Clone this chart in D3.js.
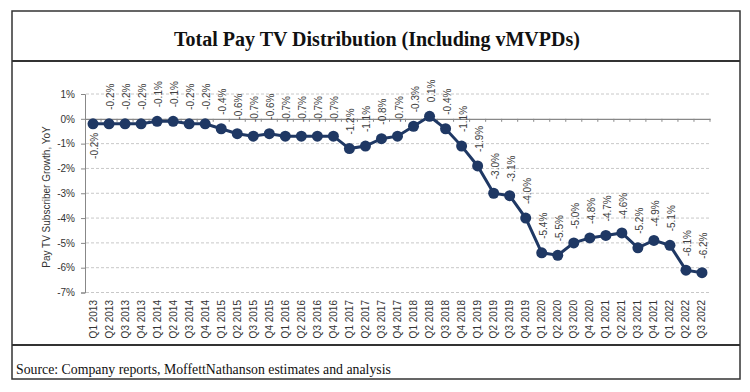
<!DOCTYPE html>
<html><head><meta charset="utf-8">
<script src="https://cdn.jsdelivr.net/npm/d3@7"></script>
<style>body{margin:0;background:#fff}svg{display:block}</style>
</head><body>
<svg id="c" width="750" height="392"></svg>
<script>
const quarters = ["Q1 2013","Q2 2013","Q3 2013","Q4 2013","Q1 2014","Q2 2014","Q3 2014","Q4 2014",
"Q1 2015","Q2 2015","Q3 2015","Q4 2015","Q1 2016","Q2 2016","Q3 2016","Q4 2016",
"Q1 2017","Q2 2017","Q3 2017","Q4 2017","Q1 2018","Q2 2018","Q3 2018","Q4 2018",
"Q1 2019","Q2 2019","Q3 2019","Q4 2019","Q1 2020","Q2 2020","Q3 2020","Q4 2020",
"Q1 2021","Q2 2021","Q3 2021","Q4 2021","Q1 2022","Q2 2022","Q3 2022"];
const growth = [-0.2,-0.2,-0.2,-0.2,-0.1,-0.1,-0.2,-0.2,
-0.4,-0.6,-0.7,-0.6,-0.7,-0.7,-0.7,-0.7,
-1.2,-1.1,-0.8,-0.7,-0.3,0.1,-0.4,-1.1,
-1.9,-3.0,-3.1,-4.0,-5.4,-5.5,-5.0,-4.8,
-4.7,-4.6,-5.2,-4.9,-5.1,-6.1,-6.2];
const yTicks = [1,0,-1,-2,-3,-4,-5,-6,-7];
const title = "Total Pay TV Distribution (Including vMVPDs)";
const source = "Source: Company reports, MoffettNathanson estimates and analysis";
const yTitle = "Pay TV Subscriber Growth, YoY";

const svg = d3.select("#c");
const sans = "'Liberation Sans', Arial, sans-serif";
const serif = "'Liberation Serif', 'Times New Roman', serif";

// frame
const fx0 = 12, fx1 = 740, fy0 = 11, fy1 = 379;
svg.append("rect").attr("x", fx0).attr("y", fy0).attr("width", fx1 - fx0).attr("height", fy1 - fy0)
  .attr("fill", "none").attr("stroke", "#333").attr("stroke-width", 1.5);
svg.append("line").attr("x1", fx0).attr("x2", fx1).attr("y1", 61).attr("y2", 61)
  .attr("stroke", "#333").attr("stroke-width", 2);
svg.append("line").attr("x1", fx0).attr("x2", fx1).attr("y1", 345).attr("y2", 345)
  .attr("stroke", "#333").attr("stroke-width", 2);

svg.append("text").attr("x", 377).attr("y", 41).attr("text-anchor", "middle")
  .attr("dominant-baseline", "middle")
  .style("font-family", serif).style("font-weight", "bold").style("font-size", "20px")
  .attr("fill", "#111").text(title);
svg.append("text").attr("x", 16).attr("y", 374)
  .style("font-family", serif).style("font-size", "13.8px").attr("fill", "#111").text(source);

// scales
const x = d3.scaleBand().domain(quarters).range([85, 710]);
const y = d3.scaleLinear().domain([-7, 1]).range([292.5, 94]);
const cx = d => x(d) + x.bandwidth() / 2;

// gridlines
svg.append("g").selectAll("line").data(yTicks.filter(t => t !== 0)).join("line")
  .attr("x1", 86).attr("x2", 710).attr("y1", d => y(d)).attr("y2", d => y(d))
  .attr("stroke", "#c8c8c8").attr("stroke-width", 1).attr("stroke-dasharray", "3,2");

// y axis
const yAxis = svg.append("g").attr("transform", "translate(85,0)")
  .call(d3.axisLeft(y).tickValues(yTicks).tickFormat(d => d + "%").tickSize(4).tickPadding(6));
yAxis.select(".domain").attr("stroke", "#888");
yAxis.selectAll(".tick line").attr("stroke", "#888");
yAxis.selectAll("text").style("font-family", sans).style("font-size", "10px").attr("fill", "#333");

// x axis at 0
const xAxis = svg.append("g").attr("transform", `translate(0,${y(0)})`)
  .call(d3.axisBottom(x).tickSize(0).tickFormat(""));
xAxis.select(".domain").attr("stroke", "#888").attr("stroke-width", 1.2);
svg.append("g").selectAll("line").data(quarters.slice(1).concat(["__end"])).join("line")
  .attr("x1", d => d === "__end" ? 710 : x(d)).attr("x2", d => d === "__end" ? 710 : x(d))
  .attr("y1", y(0)).attr("y2", y(0) + 3).attr("stroke", "#888");

// x labels
svg.append("g").selectAll("text").data(quarters).join("text")
  .attr("transform", d => `translate(${cx(d)},300) rotate(-90)`)
  .attr("text-anchor", "end").attr("dominant-baseline", "central")
  .style("font-family", sans).style("font-size", "10px").attr("fill", "#333")
  .text(d => d);

// y title
svg.append("text").attr("transform", "translate(46,197) rotate(-90)")
  .attr("text-anchor", "middle").attr("dominant-baseline", "central")
  .style("font-family", sans).style("font-size", "10px").attr("fill", "#333").text(yTitle);

// line
const pts = quarters.map((q, i) => ({q, v: growth[i]}));
svg.append("path").datum(pts)
  .attr("d", d3.line().x(d => cx(d.q)).y(d => y(d.v)))
  .attr("fill", "none").attr("stroke", "#1f3864").attr("stroke-width", 3);
svg.append("g").selectAll("circle").data(pts).join("circle")
  .attr("cx", d => cx(d.q)).attr("cy", d => y(d.v)).attr("r", 5.5).attr("fill", "#1f3864");

// data labels
svg.append("g").selectAll("text").data(pts).join("text")
  .attr("transform", (d, i) => i === 0
    ? `translate(${cx(d.q) + 1},${y(d.v) + 9}) rotate(-90)`
    : `translate(${cx(d.q) + 1.5},${y(d.v) - 14}) rotate(-90)`)
  .attr("text-anchor", (d, i) => i === 0 ? "end" : "start")
  .attr("dominant-baseline", "central")
  .style("font-family", sans).style("font-size", "10px").attr("fill", "#404040")
  .text(d => d.v.toFixed(1) + "%");
</script>
</body></html>
